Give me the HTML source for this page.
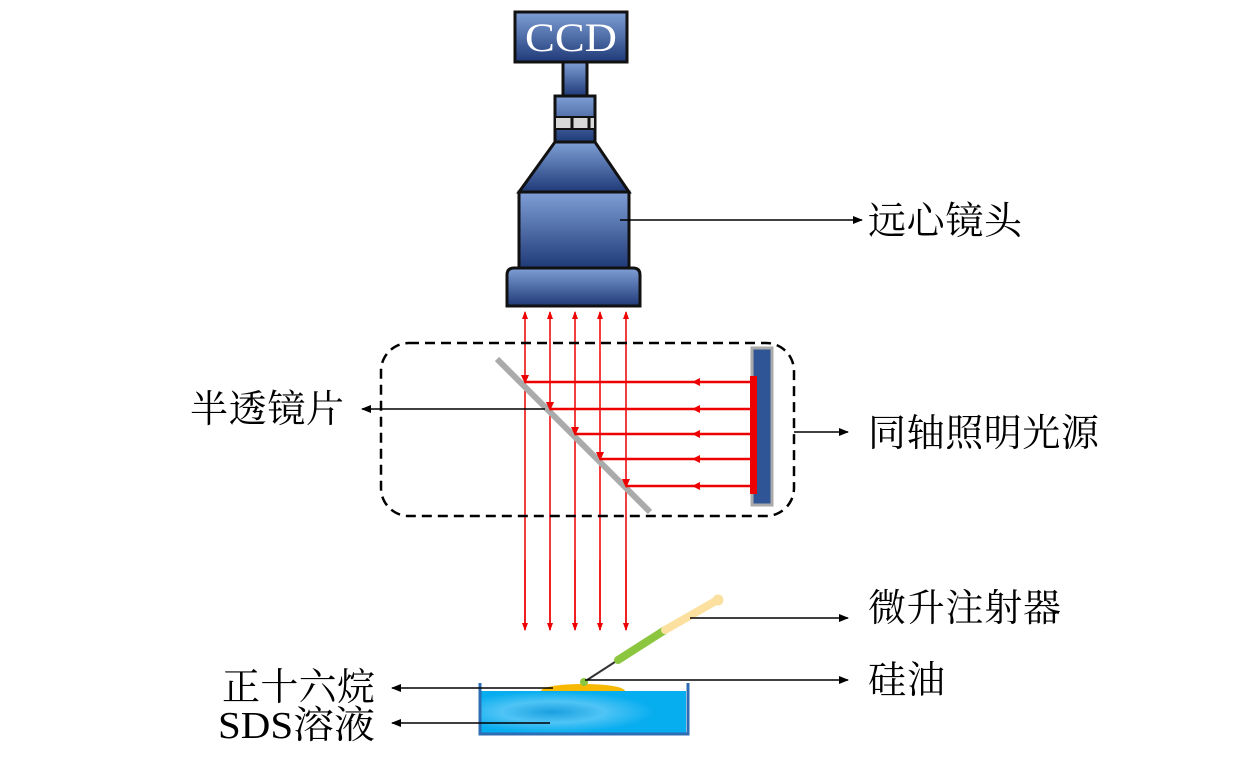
<!DOCTYPE html>
<html><head><meta charset="utf-8"><style>
body{margin:0;background:#fff;}
svg text{font-family:"Liberation Serif","Noto Serif CJK SC",serif;font-size:38px;fill:#000;}
</style></head><body>
<svg width="1260" height="756" viewBox="0 0 1260 756" xmlns="http://www.w3.org/2000/svg">
<defs>
<linearGradient id="bl" x1="0" y1="0" x2="0" y2="1">
<stop offset="0" stop-color="#7f9fd6"/><stop offset="1" stop-color="#1f3a78"/></linearGradient>
<radialGradient id="wat" cx="0.35" cy="0.5" r="0.5"><stop offset="0" stop-color="#1aa0e0"/><stop offset="0.5" stop-color="#4fc4f5"/><stop offset="1" stop-color="#06adef"/></radialGradient>
<marker id="ar" markerWidth="10" markerHeight="8" refX="9" refY="4" orient="auto" markerUnits="userSpaceOnUse"><path d="M0,0 L10,4 L0,8 Z" fill="#000"/></marker>
<marker id="rr" markerWidth="8" markerHeight="8" refX="7" refY="4" orient="auto" markerUnits="userSpaceOnUse"><path d="M0,1 L8,4 L0,7 Z" fill="#e00"/></marker>
</defs>
<g stroke="#111" stroke-width="3">
<rect x="515" y="12" width="112" height="50" fill="url(#bl)"/>
<rect x="563" y="62" width="24" height="34" fill="url(#bl)"/>
<rect x="555" y="96" width="40" height="46" fill="url(#bl)"/>
<rect x="555" y="117" width="40" height="12" fill="#d8d8d8" stroke-width="2"/>
<path d="M555,142 L595,142 L629,192 L519,192 Z" fill="url(#bl)"/>
<rect x="519" y="192" width="110" height="76" fill="url(#bl)"/>
<path d="M507,306 L507,275 Q507,268 514,268 L633,268 Q640,268 640,275 L640,306 Z" fill="url(#bl)"/>
</g>
<line x1="572" y1="117" x2="572" y2="129" stroke="#111" stroke-width="3"/>
<line x1="589" y1="117" x2="589" y2="129" stroke="#111" stroke-width="3"/>
<text x="525" y="51" textLength="92" lengthAdjust="spacingAndGlyphs" style="fill:#fff;font-size:40px">CCD</text>
<g stroke="#e00" stroke-width="1.5">
<line x1="525" y1="630" x2="525" y2="312" marker-end="url(#rr)"/>
<line x1="550" y1="630" x2="550" y2="312" marker-end="url(#rr)"/>
<line x1="575" y1="630" x2="575" y2="312" marker-end="url(#rr)"/>
<line x1="600" y1="630" x2="600" y2="312" marker-end="url(#rr)"/>
<line x1="626" y1="630" x2="626" y2="312" marker-end="url(#rr)"/>
<line x1="525" y1="560" x2="525" y2="630" marker-end="url(#rr)"/>
<line x1="550" y1="560" x2="550" y2="630" marker-end="url(#rr)"/>
<line x1="575" y1="560" x2="575" y2="630" marker-end="url(#rr)"/>
<line x1="600" y1="560" x2="600" y2="630" marker-end="url(#rr)"/>
<line x1="626" y1="560" x2="626" y2="630" marker-end="url(#rr)"/>
</g>
<rect x="381" y="343" width="413" height="173" rx="28" fill="none" stroke="#000" stroke-width="2.5" stroke-dasharray="10,6"/>
<line x1="497" y1="359" x2="650" y2="512" stroke="#aaa" stroke-width="6"/>
<g stroke="#e00" stroke-width="2.5" fill="none">
<line x1="752" y1="382" x2="525" y2="382"/>
<line x1="752" y1="409" x2="550" y2="409"/>
<line x1="752" y1="434" x2="575" y2="434"/>
<line x1="752" y1="459" x2="600" y2="459"/>
<line x1="752" y1="486" x2="626" y2="486"/>
</g>
<g fill="#e00">
<path d="M521,375 L529,375 L525,384Z"/><path d="M546,402 L554,402 L550,411Z"/><path d="M571,427 L579,427 L575,436Z"/><path d="M596,452 L604,452 L600,461Z"/><path d="M622,479 L630,479 L626,488Z"/>
<path d="M692,382 L700,378 L700,386Z"/><path d="M692,409 L700,405 L700,413Z"/><path d="M692,434 L700,430 L700,438Z"/><path d="M692,459 L700,455 L700,463Z"/><path d="M692,486 L700,482 L700,490Z"/>
</g>
<rect x="752" y="348" width="20" height="157" fill="#2f5597" stroke="#aaa" stroke-width="3"/>
<rect x="750" y="376" width="7" height="118" fill="#e00"/>
<ellipse cx="583" cy="691" rx="42" ry="7" fill="#f6b800"/>
<rect x="481" y="691" width="205" height="42" fill="url(#wat)"/>
<path d="M480,683 L480,734 L688,734 L688,683" fill="none" stroke="#2e6db4" stroke-width="3"/>
<line x1="584" y1="682" x2="618" y2="660" stroke="#333" stroke-width="2"/>
<line x1="618" y1="660" x2="665" y2="630" stroke="#8cc63f" stroke-width="8" stroke-linecap="round"/>
<line x1="665" y1="630" x2="714" y2="602" stroke="#fbe0a0" stroke-width="8" stroke-linecap="round"/>
<circle cx="718" cy="600" r="5.5" fill="#fbe0a0"/>
<circle cx="584" cy="682" r="4" fill="#8cc63f"/>
<g stroke="#000" stroke-width="1.5">
<line x1="620" y1="220" x2="862" y2="220" marker-end="url(#ar)"/>
<line x1="545" y1="409" x2="362" y2="409" marker-end="url(#ar)"/>
<line x1="794" y1="432" x2="848" y2="432" marker-end="url(#ar)"/>
<line x1="690" y1="618" x2="848" y2="618" marker-end="url(#ar)"/>
<line x1="585" y1="680" x2="848" y2="680" marker-end="url(#ar)"/>
<line x1="553" y1="688" x2="392" y2="688" marker-end="url(#ar)"/>
<line x1="550" y1="723" x2="392" y2="723" marker-end="url(#ar)"/>
</g>
<text x="868" y="234" textLength="154">远心镜头</text>
<text x="190" y="422" textLength="154">半透镜片</text>
<text x="868" y="446" textLength="231">同轴照明光源</text>
<text x="868" y="621" textLength="193">微升注射器</text>
<text x="868" y="693" textLength="77">硅油</text>
<text x="222" y="700" textLength="153">正十六烷</text>
<text x="218" y="738" textLength="157" lengthAdjust="spacingAndGlyphs">SDS溶液</text>
</svg>
</body></html>
